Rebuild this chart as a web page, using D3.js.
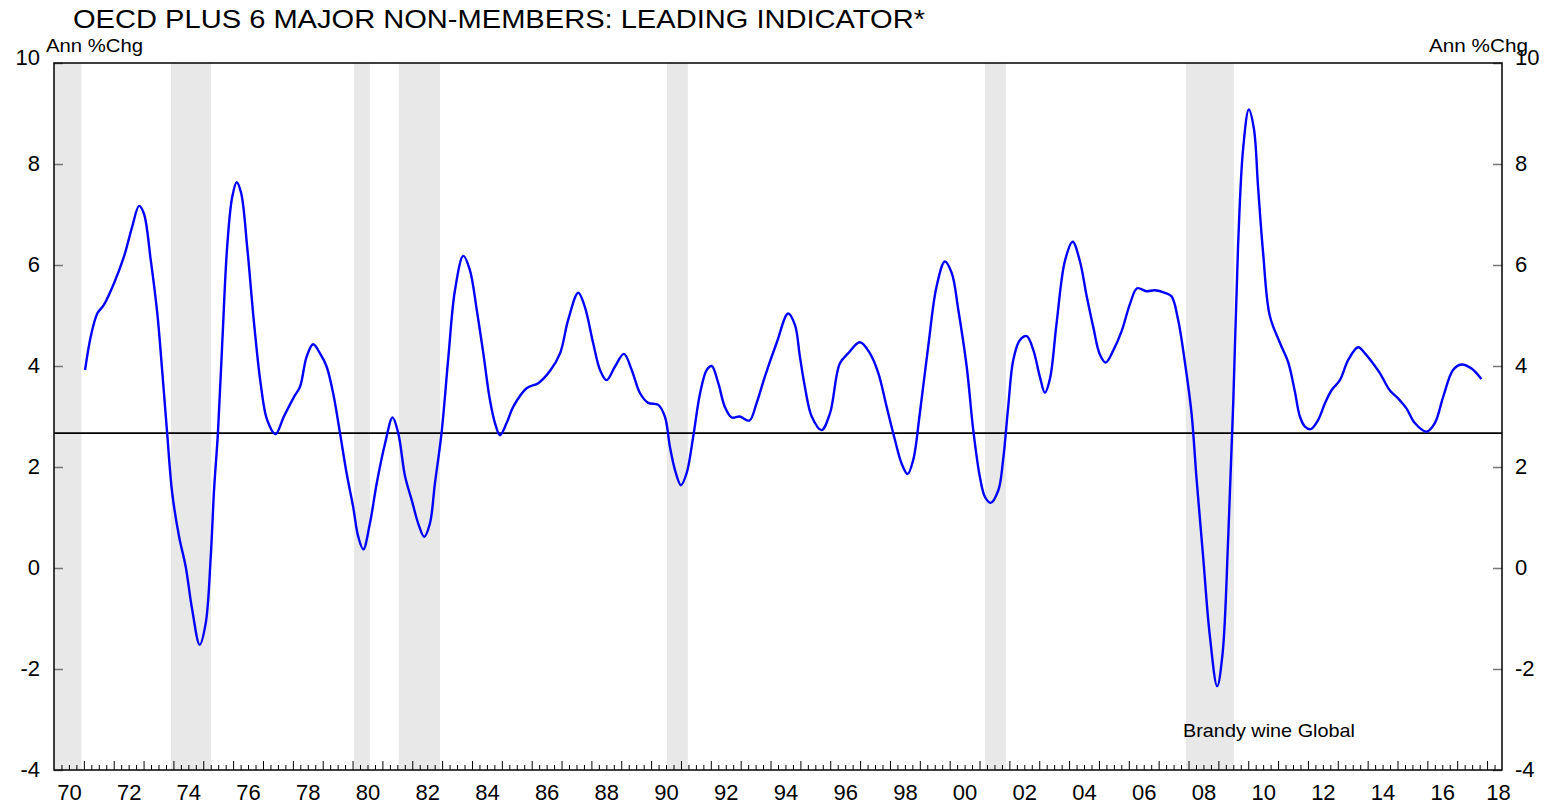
<!DOCTYPE html>
<html>
<head>
<meta charset="utf-8">
<script src="https://cdn.jsdelivr.net/npm/d3@7"></script>
<style>
  html, body { margin: 0; padding: 0; background: #fff; }
  svg { display: block; font-family: "Liberation Sans", Arial, sans-serif; }
  .axis path { display: none; }
  .axis text { font-size: 22px; fill: #000; }
</style>
</head>
<body>
<svg id="chart"></svg>
<script>
// Leading indicator, annual % change
const dates = [
  1971.04, 1971.23, 1971.45, 1971.67, 1972.01, 1972.34, 1972.62, 1972.85, 1973.01, 1973.24,
  1973.46, 1973.63, 1973.79, 1973.96, 1974.19, 1974.41, 1974.63, 1974.88, 1975.08, 1975.25,
  1975.36, 1975.49, 1975.64, 1975.80, 1975.97, 1976.12, 1976.27, 1976.47, 1976.70, 1976.92,
  1977.14, 1977.42, 1977.70, 1978.04, 1978.24, 1978.46, 1978.68, 1978.91, 1979.13, 1979.35,
  1979.58, 1979.80, 1980.02, 1980.19, 1980.36, 1980.58, 1980.81, 1981.09, 1981.34, 1981.53,
  1981.76, 1981.98, 1982.20, 1982.40, 1982.59, 1982.76, 1982.98, 1983.21, 1983.43, 1983.71,
  1983.93, 1984.16, 1984.38, 1984.60, 1984.77, 1984.94, 1985.16, 1985.38, 1985.83, 1986.22,
  1986.61, 1986.95, 1987.22, 1987.56, 1987.78, 1988.06, 1988.29, 1988.51, 1988.79, 1989.09,
  1989.35, 1989.63, 1989.90, 1990.24, 1990.46, 1990.63, 1990.80, 1991.00, 1991.19, 1991.41,
  1991.64, 1991.86, 1992.03, 1992.25, 1992.47, 1992.70, 1992.97, 1993.29, 1993.53, 1993.81,
  1994.20, 1994.59, 1994.82, 1994.98, 1995.15, 1995.38, 1995.71, 1995.99, 1996.32, 1996.60,
  1996.99, 1997.33, 1997.61, 1997.89, 1998.17, 1998.39, 1998.59, 1998.78, 1999.00, 1999.28,
  1999.56, 1999.84, 2000.07, 2000.29, 2000.57, 2000.79, 2001.01, 2001.18, 2001.37, 2001.63,
  2001.79, 2001.96, 2002.13, 2002.35, 2002.58, 2002.80, 2003.02, 2003.19, 2003.36, 2003.58,
  2003.86, 2004.12, 2004.36, 2004.59, 2004.81, 2005.03, 2005.23, 2005.48, 2005.76, 2006.04,
  2006.28, 2006.59, 2006.87, 2007.21, 2007.43, 2007.65, 2007.88, 2008.10, 2008.27, 2008.49,
  2008.71, 2008.96, 2009.14, 2009.33, 2009.50, 2009.66, 2009.83, 2010.02, 2010.19, 2010.33,
  2010.50, 2010.72, 2011.06, 2011.34, 2011.56, 2011.73, 2011.90, 2012.09, 2012.34, 2012.57,
  2012.79, 2013.07, 2013.35, 2013.68, 2013.91, 2014.13, 2014.41, 2014.74, 2015.02, 2015.30,
  2015.58, 2015.97, 2016.25, 2016.53, 2016.86, 2017.14, 2017.48, 2017.81
];
const values = [
  3.92, 4.58, 5.04, 5.21, 5.64, 6.16, 6.76, 7.17, 7.02, 6.10,
  5.04, 3.86, 2.67, 1.48, 0.62, 0.03, -0.83, -1.52, -1.10, 0.22,
  1.54, 2.67, 4.51, 6.36, 7.35, 7.64, 7.42, 6.36, 4.85, 3.66,
  2.93, 2.65, 3.00, 3.39, 3.59, 4.18, 4.43, 4.25, 3.99, 3.46,
  2.67, 1.88, 1.21, 0.62, 0.37, 0.88, 1.68, 2.47, 2.98, 2.67,
  1.81, 1.35, 0.88, 0.62, 0.88, 1.68, 2.67, 4.18, 5.50, 6.18,
  5.90, 5.11, 4.25, 3.33, 2.87, 2.63, 2.87, 3.19, 3.56, 3.66,
  3.90, 4.25, 4.91, 5.45, 5.17, 4.45, 3.92, 3.72, 3.99, 4.24,
  3.92, 3.46, 3.27, 3.23, 3.00, 2.40, 1.94, 1.64, 1.88, 2.60,
  3.46, 3.92, 4.00, 3.66, 3.19, 2.98, 3.00, 2.92, 3.26, 3.79,
  4.45, 5.04, 4.81, 4.20, 3.59, 3.00, 2.73, 3.06, 4.05, 4.25,
  4.47, 4.25, 3.86, 3.19, 2.53, 2.07, 1.86, 2.14, 3.06, 4.38,
  5.57, 6.07, 5.84, 5.11, 3.99, 2.73, 1.81, 1.41, 1.29, 1.54,
  2.14, 3.19, 4.12, 4.51, 4.59, 4.32, 3.79, 3.47, 3.75, 4.84,
  6.08, 6.46, 6.08, 5.38, 4.77, 4.23, 4.07, 4.31, 4.69, 5.23,
  5.54, 5.48, 5.50, 5.45, 5.38, 4.92, 4.07, 3.07, 1.76, 0.22,
  -1.32, -2.34, -1.70, 0.61, 3.30, 6.38, 8.31, 9.08, 8.70, 7.54,
  6.23, 5.00, 4.46, 4.07, 3.50, 3.00, 2.80, 2.75, 2.93, 3.26,
  3.52, 3.72, 4.12, 4.37, 4.25, 4.09, 3.86, 3.52, 3.36, 3.16,
  2.87, 2.70, 2.87, 3.39, 3.92, 4.03, 3.95, 3.74
];

// US recession bands
const recStart = [1969.92, 1973.92, 1980.05, 1981.55, 1990.53, 2001.18, 2007.91];
const recEnd   = [1970.92, 1975.26, 1980.58, 1982.93, 1991.23, 2001.88, 2009.52];

const refLevel = 2.67;                       // long-run average line
const yTicks = [10, 8, 6, 4, 2, 0, -2, -4];
const yearLabels = d3.range(1970, 2019, 2);  // 70, 72, ... 18

const width = 1553, height = 807;
const margin = { left: 54, right: 1502, top: 63, bottom: 770 };

const svg = d3.select('#chart')
    .attr('width', width)
    .attr('height', height);

const x = d3.scaleLinear().domain([1970, 2018.5]).range([margin.left, margin.right]);
const y = d3.scaleLinear().domain([-4, 10]).range([margin.bottom, margin.top]);

// Recession shading
const plot = svg.append('g');
plot.selectAll('rect.rec')
    .data(recStart.map((s, i) => [Math.max(s, 1970), recEnd[i]]))
    .enter()
    .append('rect')
    .attr('class', 'rec')
    .attr('x', d => x(d[0]))
    .attr('y', margin.top)
    .attr('width', d => x(d[1]) - x(d[0]))
    .attr('height', margin.bottom - margin.top)
    .attr('fill', '#e8e8e8');

// Average line
plot.append('line')
    .attr('x1', margin.left).attr('x2', margin.right)
    .attr('y1', y(refLevel)).attr('y2', y(refLevel))
    .attr('stroke', '#000')
    .attr('stroke-width', 1.6);

// Series
const line = d3.line()
    .x((d, i) => x(dates[i]))
    .y(d => y(d))
    .curve(d3.curveCatmullRom.alpha(0.5));

plot.append('path')
    .datum(values)
    .attr('fill', 'none')
    .attr('stroke', '#0000ff')
    .attr('stroke-width', 2.4)
    .attr('d', line);

// Left and right value axes, ticks pointing inward
const leftAxis = svg.append('g')
    .attr('class', 'axis')
    .attr('transform', `translate(${margin.left},0)`)
    .call(d3.axisLeft(y).tickValues(yTicks).tickSize(-9).tickPadding(14)
        .tickFormat(d => String(d)));

const rightAxis = svg.append('g')
    .attr('class', 'axis')
    .attr('transform', `translate(${margin.right},0)`)
    .call(d3.axisRight(y).tickValues(yTicks).tickSize(-9).tickPadding(13)
        .tickFormat(d => String(d)));

[leftAxis, rightAxis].forEach(g => {
    g.selectAll('.tick line').attr('stroke', '#777').attr('stroke-width', 1.5);
    g.selectAll('.tick text').attr('dy', d => d === 10 ? '0.05em' : '0.3em');
});

// Bottom axis: quarterly minor ticks, yearly major ticks, labels centred in the year
svg.append('g')
    .attr('class', 'axis')
    .attr('transform', `translate(0,${margin.bottom})`)
    .call(d3.axisBottom(x)
        .tickValues(d3.range(1970.25, 2018.5, 0.25).filter(d => d % 1 !== 0))
        .tickSize(-5).tickFormat(''))
    .selectAll('.tick line').attr('stroke', '#000');

svg.append('g')
    .attr('class', 'axis')
    .attr('transform', `translate(0,${margin.bottom})`)
    .call(d3.axisBottom(x)
        .tickValues(d3.range(1971, 2019))
        .tickSize(-9).tickFormat(''))
    .selectAll('.tick line').attr('stroke', '#000');

const xLabels = svg.append('g')
    .attr('class', 'axis')
    .attr('transform', `translate(0,${margin.bottom})`)
    .call(d3.axisBottom(x)
        .tickValues(yearLabels.map(d => d + 0.5))
        .tickSize(0).tickPadding(14)
        .tickFormat(d => String(Math.floor(d) % 100).padStart(2, '0')));
xLabels.selectAll('.tick line').remove();
xLabels.selectAll('.tick text').filter(d => d > 2018).attr('dx', -4);

// Frame
svg.append('rect')
    .attr('x', margin.left).attr('y', margin.top)
    .attr('width', margin.right - margin.left).attr('height', margin.bottom - margin.top)
    .attr('fill', 'none')
    .attr('stroke', '#000')
    .attr('stroke-width', 1.5);

// Texts
svg.append('text')
    .attr('x', 73).attr('y', 28)
    .attr('font-size', 26)
    .attr('textLength', 852)
    .attr('lengthAdjust', 'spacingAndGlyphs')
    .text('OECD PLUS 6 MAJOR NON-MEMBERS: LEADING INDICATOR*');

svg.append('text')
    .attr('x', 46).attr('y', 52)
    .attr('font-size', 19)
    .attr('textLength', 97)
    .attr('lengthAdjust', 'spacingAndGlyphs')
    .text('Ann %Chg');

svg.append('text')
    .attr('x', 1429).attr('y', 52)
    .attr('font-size', 19)
    .attr('textLength', 99)
    .attr('lengthAdjust', 'spacingAndGlyphs')
    .text('Ann %Chg');

svg.append('text')
    .attr('x', 1183).attr('y', 737)
    .attr('font-size', 19)
    .attr('textLength', 172)
    .attr('lengthAdjust', 'spacingAndGlyphs')
    .text('Brandy wine Global');
</script>
</body>
</html>
